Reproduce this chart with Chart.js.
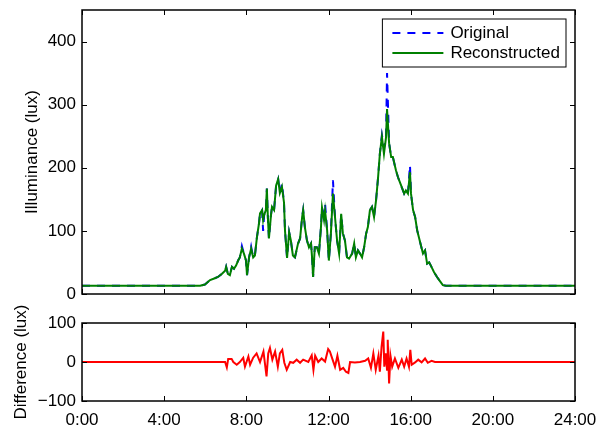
<!DOCTYPE html>
<html>
<head>
<meta charset="utf-8">
<script src="https://cdn.jsdelivr.net/npm/chart.js@4.4.1/dist/chart.umd.min.js"></script>
<style>
  body { margin: 0; background: #fff; }
  #wrap { position: relative; width: 598px; height: 428px; }
  canvas { position: absolute; left: 0; }
</style>
</head>
<body>
<div id="wrap">
  <canvas id="topChart" width="598" height="305" style="top:0px"></canvas>
  <canvas id="diffChart" width="598" height="123" style="top:305px"></canvas>
</div>
<script>
// time of day in minutes
const minutes = [0,345,359,374,388,397,409,418,421,426,
  432,438,444,450,456,461,467,473,479,482,
  488,494,500,505,511,517,520,526,529,532,
  537,540,543,546,552,555,561,567,573,578,
  584,590,593,599,605,610,616,622,631,637,
  643,646,651,657,663,669,672,675,680,686,
  692,698,701,707,710,716,721,727,733,739,
  745,751,757,762,768,774,780,789,795,800,
  806,812,818,824,830,835,841,847,853,859,
  865,870,876,882,888,891,897,903,908,917,
  923,932,941,946,952,958,961,967,973,979,
  984,990,996,1002,1008,1014,1019,1028,1037,1046,
  1054,1063,1440];

const original = [13,13,15,22,25,27,32,37,43,32,
  30,43,40,45,53,58,76,64,53,30,
  58,75,58,61,90,112,128,133,100,125,
  133,167,120,88,125,138,133,172,182,160,
  175,145,100,57,98,85,61,58,80,88,
  122,133,106,85,74,80,58,27,74,74,
  64,106,137,117,143,101,53,96,180,122,
  85,64,127,96,85,58,56,64,80,58,
  69,64,58,74,96,106,133,138,122,149,
  186,222,252,232,248,350,239,217,217,196,
  185,172,159,164,159,204,159,133,122,101,
  90,77,64,69,48,50,45,35,27,20,
  14,13,13];

const reconstructed = [13,13,15,22,25,27,32,37,43,32,
  30,43,40,45,53,58,72,64,53,30,
  58,72,58,61,90,112,128,133,117,125,
  133,167,120,88,125,138,133,172,182,160,
  170,145,100,57,98,85,61,58,80,88,
  122,133,106,85,74,80,58,27,74,74,
  64,106,137,117,132,101,53,96,159,122,
  85,64,127,96,85,58,56,64,80,58,
  69,64,58,74,96,106,133,138,122,149,
  186,222,249,222,248,293,239,217,217,196,
  185,172,159,164,159,193,159,133,122,101,
  90,77,64,69,48,50,45,35,27,20,
  14,13,13];

const diffMinutes = [0,418,423,427,437,442,452,461,471,476,
  486,491,500,510,520,530,539,544,549,556,
  564,572,578,585,591,598,608,617,627,637,
  646,661,671,676,681,690,700,710,719,724,
  732,739,746,754,763,771,778,783,797,812,
  827,836,844,851,858,866,870,875,880,883,
  887,891,893,897,901,906,914,924,934,941,
  948,955,959,963,973,982,992,1002,1010,1021,
  1031,1440];

const difference = [0,0,-14,8,8,0,-7,0,11,-12,
  14,-7,11,22,0,27,-37,22,36,6,
  27,-12,22,31,-2,-20,0,-2,6,-2,
  6,0,17,-20,16,0,9,1,33,27,
  6,-12,16,-20,-15,-25,-28,0,-1,0,
  3,9,-15,22,-20,16,-25,39,78,-12,
  22,-20,57,-55,16,-12,9,-15,6,-12,
  9,-12,31,-7,-1,6,-1,9,-2,3,
  0,0];

const xTicks = [0,240,480,720,960,1200,1440];
const xTickLabels = ['0:00','4:00','8:00','12:00','16:00','20:00','24:00'];
const topYTicks = [0,100,200,300,400];
const diffYTicks = [-100,0,100];

const FONT = '"Liberation Sans", Arial, Helvetica, sans-serif';
Chart.defaults.font.family = FONT;
Chart.defaults.font.size = 17;
Chart.defaults.color = '#000';

const pts = (xs, ys) => xs.map((x, i) => ({x: x, y: ys[i]}));

// no label overflow padding, the layout padding decides the plot box
function noOverflow(s) {
  s.paddingTop = 0; s.paddingBottom = 0;
  s.paddingLeft = 0; s.paddingRight = 0;
}

// matlab style box with inward ticks
const boxTicks = {
  id: 'boxTicks',
  afterDatasetsDraw(chart, args, opts) {
    const {ctx, chartArea: a, scales: {x, y}} = chart;
    ctx.save();
    ctx.strokeStyle = '#000';
    ctx.lineWidth = 1;
    ctx.beginPath();
    xTicks.forEach(v => {
      const p = Math.round(x.getPixelForValue(v)) + 0.5;
      ctx.moveTo(p, a.bottom); ctx.lineTo(p, a.bottom - 5);
      ctx.moveTo(p, a.top); ctx.lineTo(p, a.top + 5);
    });
    opts.yTicks.forEach(v => {
      const p = Math.round(y.getPixelForValue(v)) + 0.5;
      ctx.moveTo(a.left, p); ctx.lineTo(a.left + 5, p);
      ctx.moveTo(a.right, p); ctx.lineTo(a.right - 5, p);
    });
    ctx.stroke();
    ctx.lineWidth = 1.5;
    ctx.strokeRect(a.left, a.top, a.right - a.left, a.bottom - a.top);
    ctx.restore();
  }
};

const boxLegend = {
  id: 'boxLegend',
  afterDraw(chart) {
    const {ctx, chartArea: a} = chart;
    const items = chart.data.datasets;
    ctx.save();
    ctx.font = '17px ' + FONT;
    const textW = Math.max(...items.map(d => ctx.measureText(d.label).width));
    const lineLen = 51, gap = 7, padX = 10, rowH = 20, padY = 4;
    const w = padX + lineLen + gap + textW + 6;
    const h = padY * 2 + rowH * items.length;
    const x0 = a.right - 9 - w, y0 = a.top + 9;
    ctx.fillStyle = '#fff';
    ctx.fillRect(x0, y0, w, h);
    ctx.strokeStyle = '#000';
    ctx.lineWidth = 1;
    ctx.strokeRect(x0, y0, w, h);
    items.forEach((d, i) => {
      const cy = y0 + padY + rowH * (i + 0.5);
      ctx.beginPath();
      ctx.setLineDash(d.borderDash || []);
      ctx.strokeStyle = d.borderColor;
      ctx.lineWidth = d.borderWidth;
      ctx.moveTo(x0 + padX, cy);
      ctx.lineTo(x0 + padX + lineLen, cy);
      ctx.stroke();
      ctx.setLineDash([]);
      ctx.fillStyle = '#000';
      ctx.textBaseline = 'middle';
      ctx.fillText(d.label, x0 + padX + lineLen + gap, cy);
    });
    ctx.restore();
  }
};

new Chart(document.getElementById('topChart'), {
  type: 'line',
  data: {
    datasets: [{
        label: 'Original',
        data: pts(minutes, original),
        borderColor: '#0000ff',
        borderWidth: 2,
        borderDash: [8, 7],
        order: 2
      },
      {
        label: 'Reconstructed',
        data: pts(minutes, reconstructed),
        borderColor: '#008000',
        borderWidth: 2,
        order: 1
      }]
  },
  options: {
    responsive: false,
    animation: false,
    elements: { point: { radius: 0 }, line: { tension: 0 } },
    layout: { padding: { top: 10, right: 23, bottom: 11, left: 0 } },
    plugins: { legend: { display: false }, tooltip: { enabled: false }, boxTicks: { yTicks: topYTicks } },
    scales: {
      x: { type: 'linear', min: 0, max: 1440, display: false },
      y: {
        min: 0, max: 450,
        afterBuildTicks: s => { s.ticks = topYTicks.map(v => ({value: v})); },
        afterFit: s => { s.width = 82; noOverflow(s); },
        ticks: { padding: 6, color: '#000' },
        grid: { display: false, drawTicks: false },
        border: { display: false },
        title: { display: true, text: 'Illuminance (lux)', color: '#000', padding: { top: 22, bottom: 0 } }
      }
    }
  },
  plugins: [boxTicks, boxLegend]
});

new Chart(document.getElementById('diffChart'), {
  type: 'line',
  data: {
    datasets: [{
      label: 'Difference',
      data: pts(diffMinutes, difference),
      borderColor: '#ff0000',
      borderWidth: 2
    }]
  },
  options: {
    responsive: false,
    animation: false,
    elements: { point: { radius: 0 }, line: { tension: 0 } },
    layout: { padding: { top: 18, right: 23, bottom: 0, left: 0 } },
    plugins: { legend: { display: false }, tooltip: { enabled: false }, boxTicks: { yTicks: diffYTicks } },
    scales: {
      x: {
        type: 'linear', min: 0, max: 1440,
        afterBuildTicks: s => { s.ticks = xTicks.map(v => ({value: v})); },
        afterFit: s => { s.height = 27; noOverflow(s); },
        ticks: { padding: 9, color: '#000', maxRotation: 0,
          callback: v => xTickLabels[xTicks.indexOf(v)] },
        grid: { display: false, drawTicks: false },
        border: { display: false }
      },
      y: {
        min: -100, max: 100,
        afterBuildTicks: s => { s.ticks = diffYTicks.map(v => ({value: v})); },
        afterFit: s => { s.width = 82; noOverflow(s); },
        ticks: { padding: 6, color: '#000', callback: v => String(v).replace('-', '\u2212') },
        grid: { display: false, drawTicks: false },
        border: { display: false },
        title: { display: true, text: 'Difference (lux)', color: '#000', padding: { top: 11, bottom: 0 } }
      }
    }
  },
  plugins: [boxTicks]
});
</script>
</body>
</html>
